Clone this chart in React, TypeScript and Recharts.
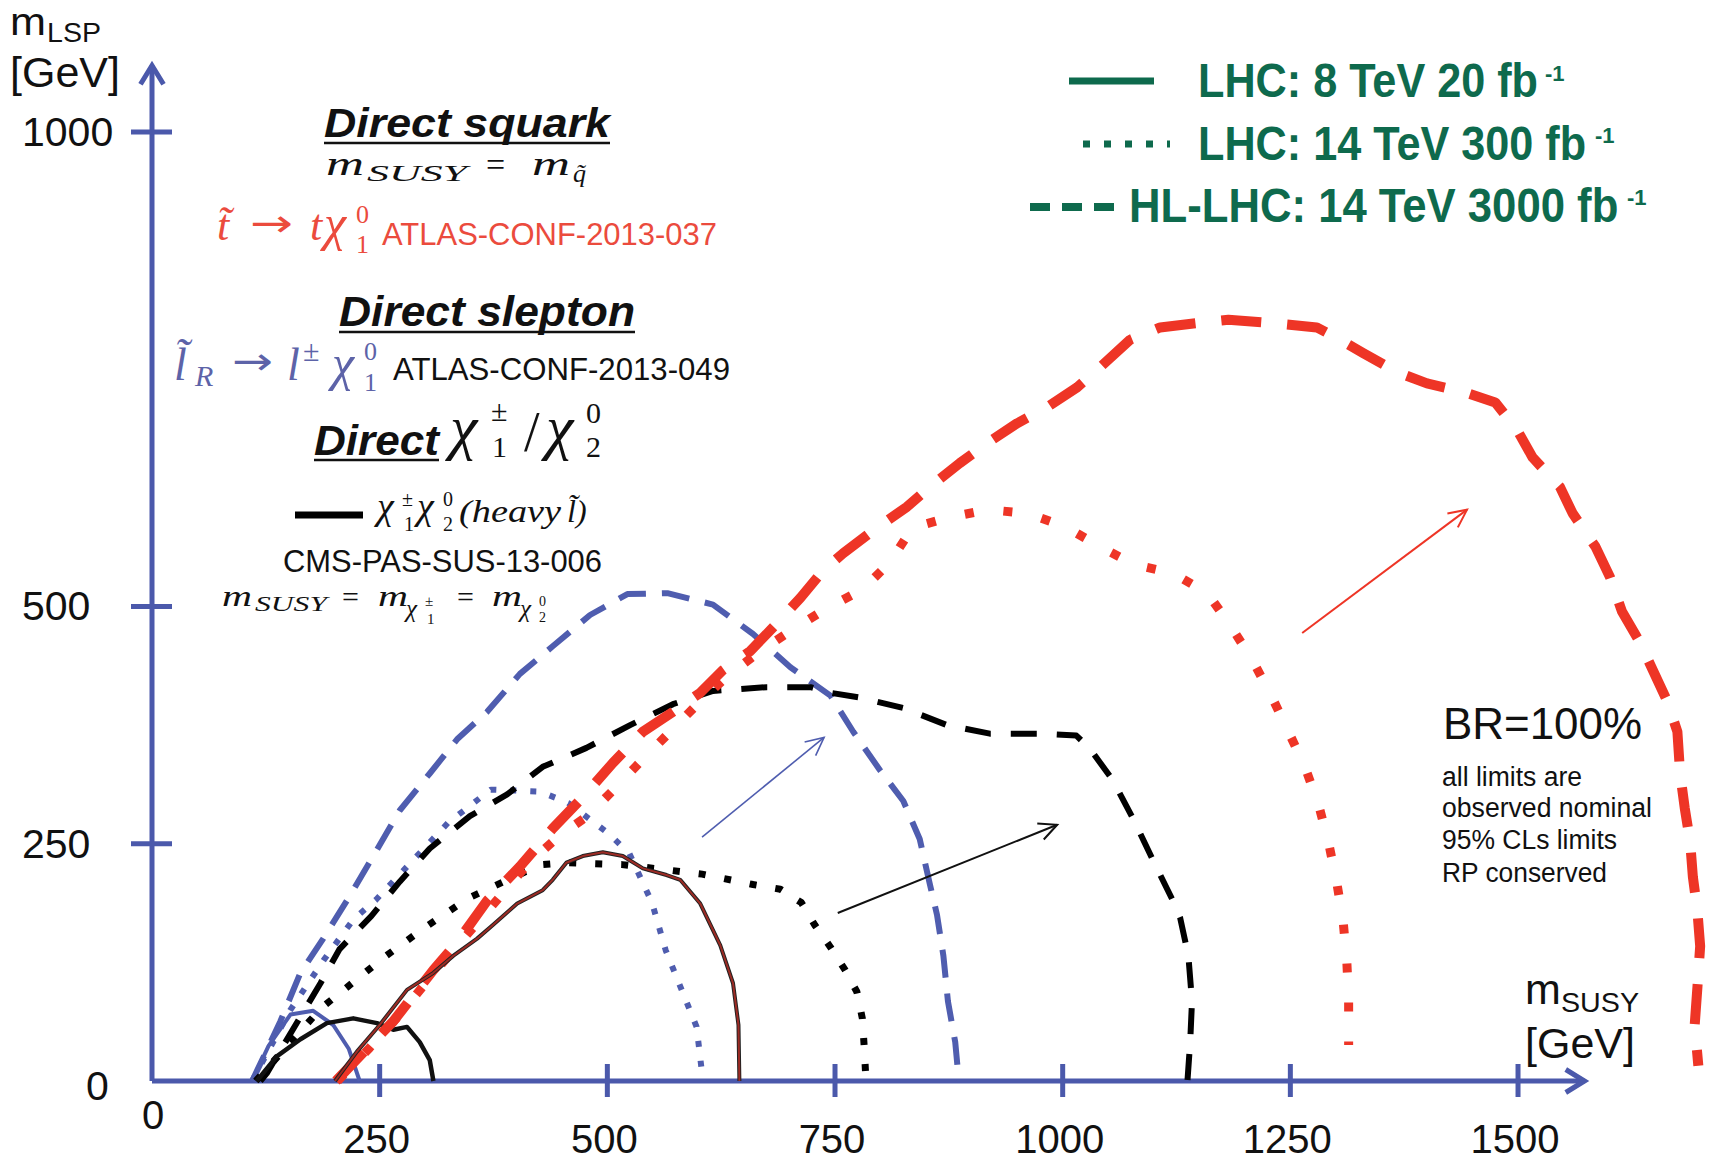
import React from 'react';
import { LineChart, Line, XAxis, YAxis, ReferenceLine } from 'recharts';

type Pt = { x: number; y: number };

const W = 1712;
const H = 1163;

// axis ticks (GeV)
const xTicks = [0, 250, 500, 750, 1000, 1250, 1500];
const yTicks = [0, 250, 500, 1000];

// slepton (blue)
const slepton8: Pt[] = [
  { x: 110, y: 0 }, { x: 128, y: 37 }, { x: 152, y: 70 }, { x: 177, y: 74 },
  { x: 199, y: 59 }, { x: 216, y: 34 }, { x: 228, y: 0 },
];
const slepton300: Pt[] = [
  { x: 110, y: 0 }, { x: 152, y: 75 }, { x: 189, y: 128 }, { x: 221, y: 170 },
  { x: 246, y: 191 }, { x: 287, y: 233 }, { x: 325, y: 272 }, { x: 372, y: 307 },
  { x: 426, y: 305 }, { x: 457, y: 293 }, { x: 501, y: 261 }, { x: 524, y: 240 },
  { x: 549, y: 188 }, { x: 564, y: 138 }, { x: 598, y: 57 }, { x: 605, y: 0 },
];
const slepton3000: Pt[] = [
  { x: 110, y: 0 }, { x: 141, y: 63 }, { x: 163, y: 114 }, { x: 188, y: 150 },
  { x: 214, y: 190 }, { x: 243, y: 237 }, { x: 272, y: 285 }, { x: 305, y: 324 },
  { x: 335, y: 360 }, { x: 368, y: 389 }, { x: 404, y: 429 }, { x: 440, y: 458 },
  { x: 481, y: 491 }, { x: 522, y: 513 }, { x: 566, y: 514 }, { x: 616, y: 502 },
  { x: 660, y: 471 }, { x: 701, y: 436 }, { x: 745, y: 406 }, { x: 770, y: 368 },
  { x: 799, y: 328 }, { x: 825, y: 295 }, { x: 843, y: 255 }, { x: 854, y: 208 },
  { x: 862, y: 175 }, { x: 869, y: 132 }, { x: 874, y: 84 }, { x: 882, y: 41 },
  { x: 886, y: 0 },
];

// chargino / neutralino (black)
const ewk8: Pt[] = [
  { x: 115, y: 0 }, { x: 137, y: 26 }, { x: 163, y: 44 }, { x: 192, y: 61 },
  { x: 221, y: 66 }, { x: 247, y: 61 }, { x: 265, y: 54 }, { x: 280, y: 57 },
  { x: 294, y: 41 }, { x: 305, y: 22 }, { x: 309, y: 0 },
];
const ewk300: Pt[] = [
  { x: 114, y: 0 }, { x: 186, y: 77 }, { x: 208, y: 94 }, { x: 253, y: 129 },
  { x: 300, y: 162 }, { x: 348, y: 193 }, { x: 402, y: 217 }, { x: 428, y: 228 },
  { x: 455, y: 230 }, { x: 516, y: 228 }, { x: 604, y: 218 }, { x: 660, y: 207 },
  { x: 690, y: 202 }, { x: 713, y: 188 }, { x: 728, y: 164 }, { x: 745, y: 141 },
  { x: 761, y: 117 }, { x: 774, y: 94 }, { x: 780, y: 66 }, { x: 782, y: 37 },
  { x: 784, y: 0 },
];
const ewk3000: Pt[] = [
  { x: 119, y: 0 }, { x: 126, y: 8 }, { x: 185, y: 103 }, { x: 206, y: 139 },
  { x: 241, y: 174 }, { x: 272, y: 210 }, { x: 305, y: 245 }, { x: 349, y: 279 },
  { x: 390, y: 302 }, { x: 429, y: 331 }, { x: 477, y: 351 }, { x: 525, y: 375 },
  { x: 572, y: 397 }, { x: 616, y: 411 }, { x: 675, y: 415 }, { x: 723, y: 415 },
  { x: 745, y: 409 }, { x: 777, y: 404 }, { x: 825, y: 393 }, { x: 873, y: 375 },
  { x: 920, y: 366 }, { x: 975, y: 366 }, { x: 1015, y: 364 }, { x: 1030, y: 350 },
  { x: 1055, y: 317 }, { x: 1077, y: 277 }, { x: 1099, y: 233 }, { x: 1121, y: 190 },
  { x: 1129, y: 172 }, { x: 1138, y: 132 }, { x: 1142, y: 84 }, { x: 1140, y: 41 },
  { x: 1137, y: 0 },
];

// stop (red)
const stop8: Pt[] = [
  { x: 201, y: 0 }, { x: 225, y: 31 }, { x: 250, y: 59 }, { x: 280, y: 96 },
  { x: 309, y: 114 }, { x: 331, y: 132 }, { x: 357, y: 150 }, { x: 374, y: 164 },
  { x: 401, y: 187 }, { x: 429, y: 201 }, { x: 440, y: 212 }, { x: 455, y: 230 },
  { x: 473, y: 237 }, { x: 495, y: 241 }, { x: 517, y: 237 }, { x: 539, y: 224 },
  { x: 565, y: 217 }, { x: 580, y: 212 }, { x: 602, y: 187 }, { x: 624, y: 143 },
  { x: 638, y: 103 }, { x: 644, y: 59 }, { x: 645, y: 0 },
];
const stop300: Pt[] = [
  { x: 204, y: 0 }, { x: 239, y: 35 }, { x: 272, y: 70 }, { x: 316, y: 121 },
  { x: 371, y: 182 }, { x: 415, y: 231 }, { x: 448, y: 259 }, { x: 478, y: 279 },
  { x: 508, y: 308 }, { x: 538, y: 338 }, { x: 569, y: 368 }, { x: 600, y: 398 },
  { x: 631, y: 426 }, { x: 668, y: 453 }, { x: 704, y: 476 }, { x: 741, y: 498 },
  { x: 780, y: 518 }, { x: 810, y: 546 }, { x: 835, y: 583 }, { x: 876, y: 594 },
  { x: 918, y: 602 }, { x: 962, y: 598 }, { x: 1003, y: 584 }, { x: 1041, y: 563 },
  { x: 1079, y: 544 }, { x: 1121, y: 535 }, { x: 1159, y: 514 }, { x: 1184, y: 480 },
  { x: 1208, y: 444 }, { x: 1228, y: 408 }, { x: 1247, y: 370 }, { x: 1266, y: 331 },
  { x: 1281, y: 291 }, { x: 1292, y: 251 }, { x: 1301, y: 209 }, { x: 1308, y: 168 },
  { x: 1312, y: 126 }, { x: 1314, y: 84 }, { x: 1314, y: 38 },
];
const stop3000: Pt[] = [
  { x: 202, y: 0 }, { x: 236, y: 34 }, { x: 265, y: 63 }, { x: 309, y: 117 },
  { x: 335, y: 146 }, { x: 368, y: 190 }, { x: 404, y: 226 }, { x: 440, y: 266 },
  { x: 473, y: 299 }, { x: 506, y: 335 }, { x: 539, y: 368 }, { x: 572, y: 389 },
  { x: 602, y: 409 }, { x: 627, y: 433 }, { x: 657, y: 453 }, { x: 686, y: 482 },
  { x: 712, y: 509 }, { x: 737, y: 538 }, { x: 759, y: 556 }, { x: 796, y: 583 },
  { x: 829, y: 605 }, { x: 854, y: 626 }, { x: 887, y: 651 }, { x: 917, y: 672 },
  { x: 950, y: 693 }, { x: 983, y: 710 }, { x: 1016, y: 731 }, { x: 1041, y: 752 },
  { x: 1074, y: 781 }, { x: 1107, y: 794 }, { x: 1151, y: 799 }, { x: 1182, y: 802 },
  { x: 1225, y: 799 }, { x: 1279, y: 794 }, { x: 1299, y: 784 }, { x: 1330, y: 767 },
  { x: 1367, y: 747 }, { x: 1400, y: 735 }, { x: 1440, y: 726 }, { x: 1475, y: 715 },
  { x: 1499, y: 686 }, { x: 1516, y: 657 }, { x: 1546, y: 626 }, { x: 1560, y: 598 },
  { x: 1585, y: 563 }, { x: 1601, y: 531 }, { x: 1614, y: 495 }, { x: 1634, y: 462 },
  { x: 1648, y: 433 }, { x: 1664, y: 400 }, { x: 1675, y: 368 }, { x: 1678, y: 324 },
  { x: 1683, y: 288 }, { x: 1689, y: 252 }, { x: 1692, y: 215 }, { x: 1697, y: 179 },
  { x: 1700, y: 142 }, { x: 1697, y: 99 }, { x: 1694, y: 59 }, { x: 1698, y: 16 },
];

// improvement arrows [from, to]
const stopArrow: Pt[] = [{ x: 1263, y: 472 }, { x: 1444, y: 602 }];
const sleptonArrow: Pt[] = [{ x: 604, y: 257 }, { x: 738, y: 362 }];
const ewkArrow: Pt[] = [{ x: 753, y: 177 }, { x: 994, y: 270 }];

// axis arrows
const xAxisSeg: Pt[] = [{ x: 0, y: 0 }, { x: 1573, y: 0 }];
const yAxisSeg: Pt[] = [{ x: 0, y: 0 }, { x: 0, y: 1070 }];

const AXIS = '#4b59ab';
const BLUE = '#4f5daf';
const RED = '#ee3526';
const DARKRED = '#9c2b24';
const TEAL = '#0e6a4d';
const MATHBLUE = '#5d63a8';
const REDTEXT = '#eb4b3d';
const SANS = "'Liberation Sans', Arial, Helvetica, sans-serif";
const SERIF = "'Liberation Serif', 'DejaVu Serif', serif";
const ARROWF = "'DejaVu Sans', sans-serif";

const series = [
  { key: 'sl3000', data: slepton3000, stroke: BLUE, w: 6, dash: '28 16' },
  { key: 'sl300', data: slepton300, stroke: BLUE, w: 6, dash: '6 14' },
  { key: 'sl8', data: slepton8, stroke: BLUE, w: 4, dash: undefined },
  { key: 'ew3000', data: ewk3000, stroke: '#000', w: 6, dash: '26 20' },
  { key: 'ew300', data: ewk300, stroke: '#000', w: 7, dash: '7 19' },
  { key: 'ew8', data: ewk8, stroke: '#111', w: 4.5, dash: undefined },
  { key: 'st3000', data: stop3000, stroke: RED, w: 10, dash: '40 26' },
  { key: 'st300', data: stop300, stroke: RED, w: 9, dash: '9 30' },
  { key: 'st8o', data: stop8, stroke: '#222', w: 4, dash: undefined },
  { key: 'st8', data: stop8, stroke: DARKRED, w: 2, dash: undefined },
];

const arrowShape = (color: string, width: number, head: number, spread: number) => (p: any) => {
  const { x1, y1, x2, y2 } = p;
  const a = Math.atan2(y2 - y1, x2 - x1);
  const ax = x2 - head * Math.cos(a - spread);
  const ay = y2 - head * Math.sin(a - spread);
  const bx = x2 - head * Math.cos(a + spread);
  const by = y2 - head * Math.sin(a + spread);
  return (
    <g>
      <line x1={x1} y1={y1} x2={x2} y2={y2} stroke={color} strokeWidth={width} />
      <polyline points={`${ax},${ay} ${x2},${y2} ${bx},${by}`} fill="none" stroke={color} strokeWidth={width} strokeLinejoin="miter" />
    </g>
  );
};

const XTick = (props: any) => {
  const { x, y, payload } = props;
  const style = { fontFamily: SANS, fontSize: 40, fill: '#111' };
  if (payload.value === 0) {
    return <text x={x + 1} y={y + 48} textAnchor="middle" style={style}>0</text>;
  }
  return (
    <g>
      <line x1={x} x2={x} y1={y - 17} y2={y + 16} stroke={AXIS} strokeWidth={5} />
      <text x={x - 3} y={y + 72} textAnchor="middle" style={style}>{payload.value}</text>
    </g>
  );
};

const YTick = (props: any) => {
  const { x, y, payload } = props;
  const style = { fontFamily: SANS, fontSize: 41, fill: '#111' };
  if (payload.value === 0) {
    return <text x={x - 66} y={y + 19} style={style}>0</text>;
  }
  return (
    <g>
      <line x1={x - 21} x2={x + 20} y1={y} y2={y} stroke={AXIS} strokeWidth={5} />
      <text x={x - 130} y={y + 14} style={style}>{payload.value}</text>
    </g>
  );
};

type TProps = {
  x: number; y: number; s: number; c?: string; f?: string;
  i?: boolean; b?: boolean; len?: number; sx?: number; children: React.ReactNode;
};
const T = ({ x, y, s, c = '#111', f = SANS, i, b, len, sx, children }: TProps) => (
  <text
    x={sx ? 0 : x}
    y={sx ? 0 : y}
    transform={sx ? `translate(${x},${y}) scale(${sx},1)` : undefined}
    fontSize={s}
    fill={c}
    fontFamily={f}
    fontStyle={i ? 'italic' : 'normal'}
    fontWeight={b ? 'bold' : 'normal'}
    textLength={len}
    lengthAdjust={len ? 'spacingAndGlyphs' : undefined}
  >
    {children}
  </text>
);

const TILDE = '\u0303';

const Annotations = () => (
  <svg width={W} height={H} style={{ position: 'absolute', left: 0, top: 0, pointerEvents: 'none' }}>
    {/* axis titles */}
    <T x={10} y={35} s={39} len={36}>m</T>
    <T x={47} y={42} s={27} len={54}>LSP</T>
    <T x={10} y={87} s={43}>[GeV]</T>
    <T x={1525} y={1004} s={43}>m</T>
    <T x={1561} y={1012} s={28} len={78}>SUSY</T>
    <T x={1525} y={1058} s={43}>[GeV]</T>

    {/* Direct squark */}
    <T x={324} y={137} s={40} b i len={286}>Direct squark</T>
    <line x1={324} x2={610} y1={143} y2={143} stroke="#111" strokeWidth={2.5} />
    <T x={326} y={175} s={33} f={SERIF} i len={38}>m</T>
    <T x={367} y={181} s={24} f={SERIF} i len={100}>SUSY</T>
    <T x={486} y={176} s={34} f={SERIF}>=</T>
    <T x={532} y={175} s={33} f={SERIF} i len={38}>m</T>
    <T x={573} y={182} s={26} f={SERIF} i>{'q' + TILDE}</T>

    {/* stop line */}
    <T x={217} y={240} s={44} f={SERIF} i c={REDTEXT}>{'t' + TILDE}</T>
    <T x={250} y={236} s={38} f={ARROWF} c={REDTEXT} len={43}>→</T>
    <T x={310} y={240} s={44} f={SERIF} i c={REDTEXT}>t</T>
    <T x={324} y={240} s={50} f={SERIF} i c={REDTEXT}>χ</T>
    <T x={356} y={223} s={26} f={SERIF} c={REDTEXT}>0</T>
    <T x={356} y={253} s={26} f={SERIF} c={REDTEXT}>1</T>
    <T x={382} y={245} s={32} c={REDTEXT} len={335}>ATLAS-CONF-2013-037</T>

    {/* Direct slepton */}
    <T x={339} y={326} s={42} b i len={296}>Direct slepton</T>
    <line x1={339} x2={635} y1={332} y2={332} stroke="#111" strokeWidth={2.5} />
    <T x={174} y={380} s={46} f={SERIF} i c={MATHBLUE}>{'l' + TILDE}</T>
    <T x={195} y={386} s={30} f={SERIF} i c={MATHBLUE}>R</T>
    <T x={232} y={374} s={38} f={ARROWF} c={MATHBLUE} len={41}>→</T>
    <T x={287} y={380} s={46} f={SERIF} i c={MATHBLUE}>l</T>
    <T x={303} y={361} s={30} f={SERIF} c={MATHBLUE}>±</T>
    <T x={332} y={380} s={50} f={SERIF} i c={MATHBLUE}>χ</T>
    <T x={364} y={360} s={26} f={SERIF} c={MATHBLUE}>0</T>
    <T x={364} y={391} s={26} f={SERIF} c={MATHBLUE}>1</T>
    <T x={393} y={380} s={32} len={337}>ATLAS-CONF-2013-049</T>

    {/* Direct chargino / neutralino */}
    <T x={314} y={455} s={42} b i len={125}>Direct</T>
    <line x1={314} x2={439} y1={460} y2={460} stroke="#111" strokeWidth={2.5} />
    <T x={450} y={448} s={62} f={SERIF} i>χ</T>
    <T x={491} y={421} s={30} f={SERIF}>±</T>
    <T x={492} y={457} s={30} f={SERIF}>1</T>
    <T x={524} y={451} s={56} f={SERIF}>/</T>
    <T x={546} y={448} s={62} f={SERIF} i>χ</T>
    <T x={586} y={423} s={30} f={SERIF}>0</T>
    <T x={586} y={457} s={30} f={SERIF}>2</T>

    <line x1={295} x2={363} y1={515} y2={515} stroke="#000" strokeWidth={7} />
    <T x={377} y={519} s={38} f={SERIF} i>χ</T>
    <T x={402} y={506} s={20} f={SERIF}>±</T>
    <T x={404} y={531} s={20} f={SERIF}>1</T>
    <T x={417} y={519} s={38} f={SERIF} i>χ</T>
    <T x={443} y={506} s={20} f={SERIF}>0</T>
    <T x={443} y={531} s={20} f={SERIF}>2</T>
    <T x={459} y={522} s={32} f={SERIF} i len={102}>(heavy</T>
    <T x={567} y={522} s={32} f={SERIF} i>{'l' + TILDE + ')'}</T>
    <T x={283} y={572} s={31} len={319}>CMS-PAS-SUS-13-006</T>

    <T x={222} y={606} s={30} f={SERIF} i len={30}>m</T>
    <T x={255} y={611} s={21} f={SERIF} i len={72}>SUSY</T>
    <T x={342} y={607} s={30} f={SERIF}>=</T>
    <T x={378} y={606} s={30} f={SERIF} i len={30}>m</T>
    <T x={406} y={617} s={25} f={SERIF} i>χ</T>
    <T x={425} y={606} s={15} f={SERIF}>±</T>
    <T x={427} y={624} s={15} f={SERIF}>1</T>
    <T x={457} y={607} s={30} f={SERIF}>=</T>
    <T x={492} y={606} s={30} f={SERIF} i len={30}>m</T>
    <T x={520} y={617} s={25} f={SERIF} i>χ</T>
    <T x={539} y={606} s={14} f={SERIF}>0</T>
    <T x={539} y={622} s={14} f={SERIF}>2</T>

    {/* legend */}
    <line x1={1069} x2={1154} y1={81} y2={81} stroke={TEAL} strokeWidth={7} />
    <T x={1198} y={97} s={48} b c={TEAL} sx={0.9}>LHC: 8 TeV 20 fb</T>
    <T x={1545} y={81} s={22} b c={TEAL}>-1</T>
    <line x1={1083} x2={1170} y1={144} y2={144} stroke={TEAL} strokeWidth={7} strokeDasharray="7 14" />
    <T x={1198} y={160} s={48} b c={TEAL} sx={0.9}>LHC: 14 TeV 300 fb</T>
    <T x={1595} y={143} s={22} b c={TEAL}>-1</T>
    <line x1={1030} x2={1114} y1={207} y2={207} stroke={TEAL} strokeWidth={8} strokeDasharray="20 12" />
    <T x={1129} y={222} s={48} b c={TEAL} sx={0.91}>HL-LHC: 14 TeV 3000 fb</T>
    <T x={1627} y={205} s={22} b c={TEAL}>-1</T>

    {/* BR block */}
    <T x={1443} y={739} s={44} len={199}>BR=100%</T>
    <T x={1442} y={786} s={27} len={140}>all limits are</T>
    <T x={1442} y={817} s={27} len={210}>observed nominal</T>
    <T x={1442} y={849} s={27} len={175}>95% CLs limits</T>
    <T x={1442} y={882} s={27} len={165}>RP conserved</T>
  </svg>
);

export default function App() {
  return (
    <div style={{ position: 'absolute', left: 0, top: 0, width: W, height: H, background: '#fff' }}>
      <LineChart width={W} height={H} margin={{ top: 0, right: 0, bottom: 0, left: 0 }}>
        <XAxis
          type="number"
          dataKey="x"
          domain={[0, 1713]}
          ticks={xTicks}
          interval={0}
          height={82}
          axisLine={false}
          tickLine={false}
          tickSize={0}
          tickMargin={0}
          tick={<XTick />}
        />
        <YAxis
          type="number"
          dataKey="y"
          domain={[0, 1139]}
          ticks={yTicks}
          interval={0}
          width={152}
          axisLine={false}
          tickLine={false}
          tickSize={0}
          tickMargin={0}
          tick={<YTick />}
        />
        <ReferenceLine segment={xAxisSeg} ifOverflow="visible" shape={arrowShape(AXIS, 5, 22, 0.55)} />
        <ReferenceLine segment={yAxisSeg} ifOverflow="visible" shape={arrowShape(AXIS, 5, 22, 0.55)} />
        {series.map((s) => (
          <Line
            key={s.key}
            data={s.data}
            dataKey="y"
            type="linear"
            stroke={s.stroke}
            strokeWidth={s.w}
            strokeDasharray={s.dash}
            strokeLinecap="butt"
            strokeLinejoin="round"
            dot={false}
            activeDot={false}
            isAnimationActive={false}
          />
        ))}
        <ReferenceLine segment={stopArrow} ifOverflow="visible" shape={arrowShape(RED, 2, 20, 0.45)} />
        <ReferenceLine segment={sleptonArrow} ifOverflow="visible" shape={arrowShape(BLUE, 1.6, 20, 0.45)} />
        <ReferenceLine segment={ewkArrow} ifOverflow="visible" shape={arrowShape('#111', 2, 20, 0.45)} />
      </LineChart>
      <Annotations />
    </div>
  );
}
